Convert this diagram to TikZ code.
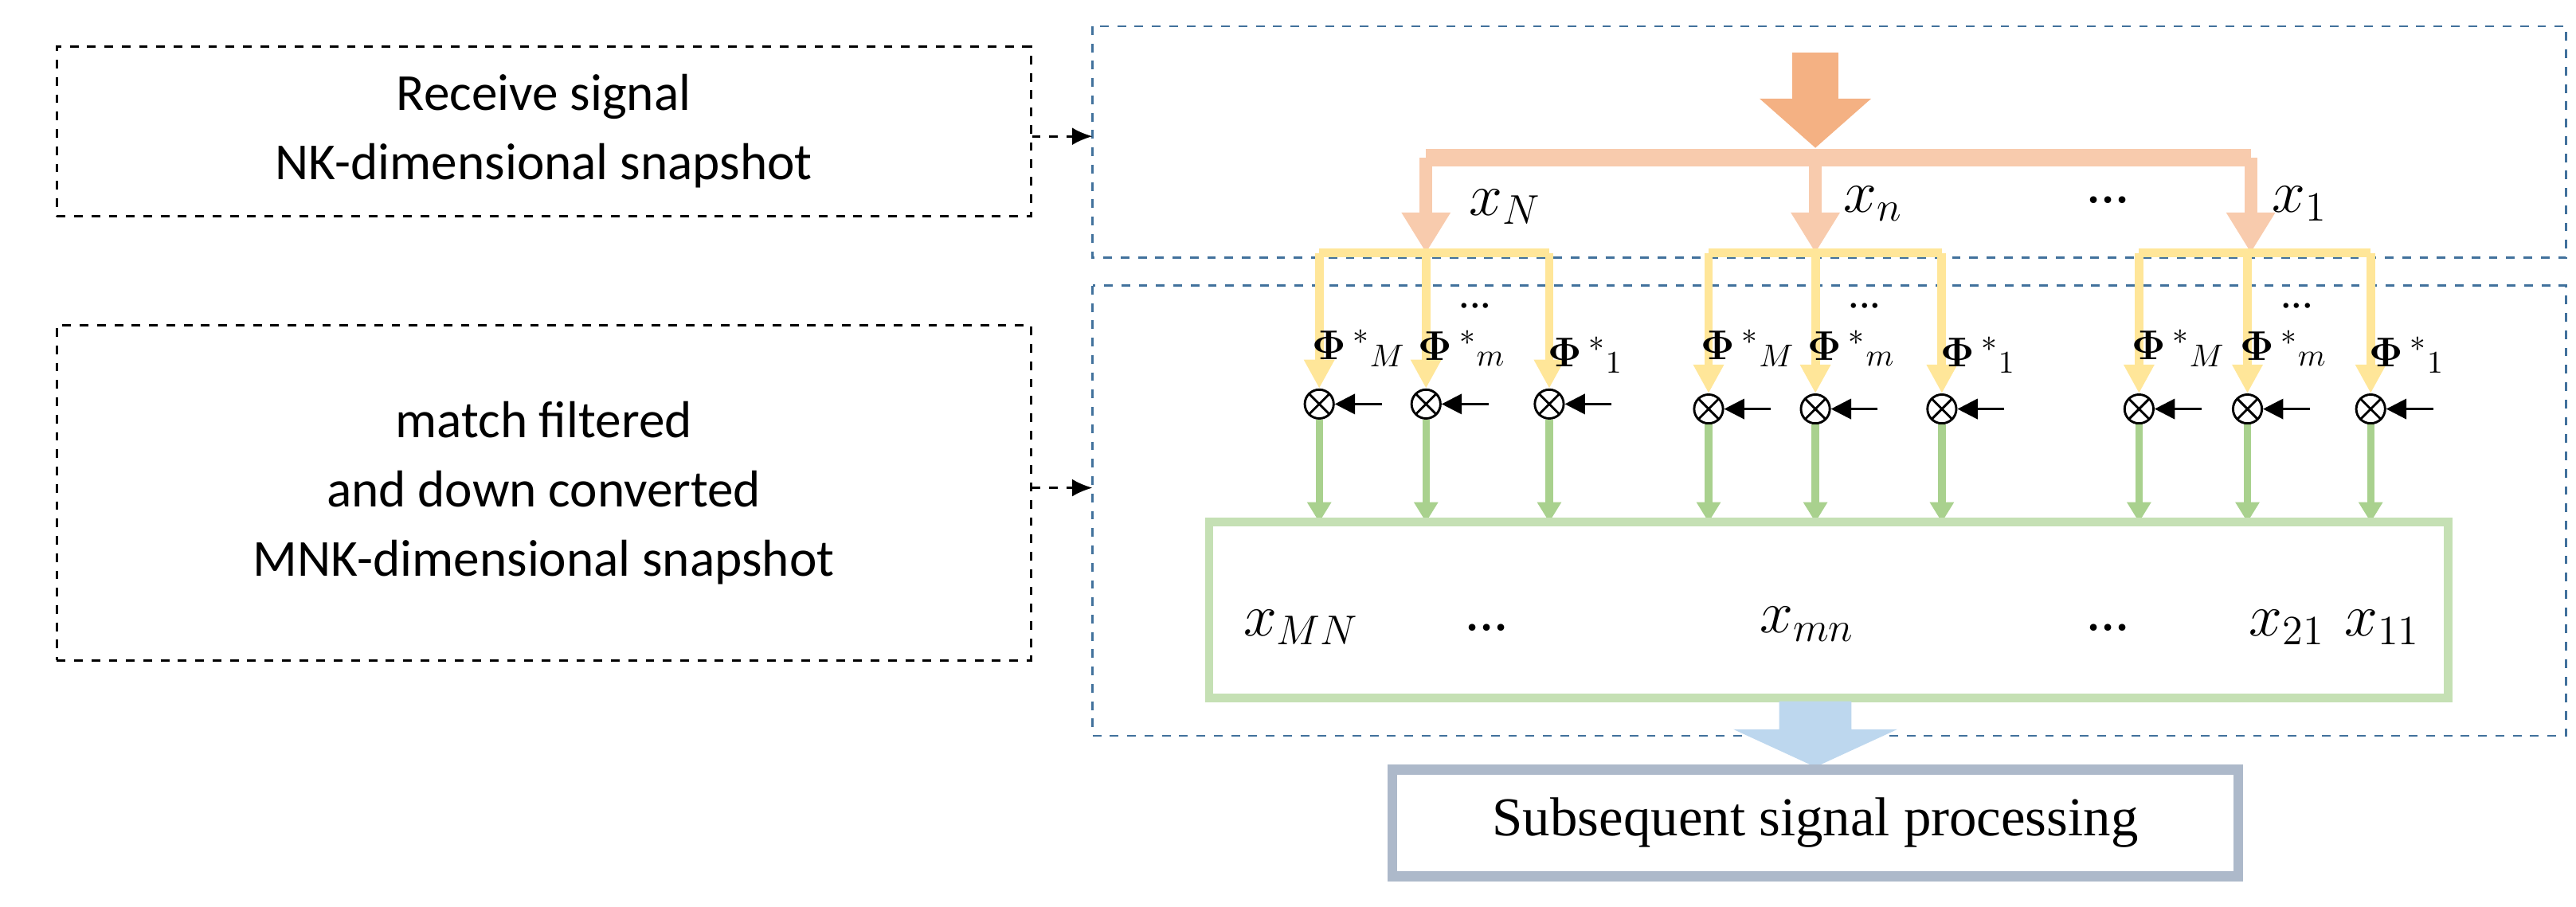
\documentclass[tikz,border=0pt]{standalone}
\usepackage{amsmath}
\usepackage{bm}
\usepackage{fontspec}
\setmainfont{Liberation Serif}
\newfontfamily\calibri{Carlito}
\usetikzlibrary{arrows.meta}
\definecolor{dashblue}{HTML}{41719C}
\definecolor{orangeA}{HTML}{F4B183}
\definecolor{orangeB}{HTML}{F8CBAD}
\definecolor{yellowA}{HTML}{FFE699}
\definecolor{greenA}{HTML}{A9D18E}
\definecolor{greenB}{HTML}{C5E0B4}
\definecolor{blueA}{HTML}{BDD7EE}
\definecolor{greyA}{HTML}{ADB9CA}
\tikzset{
  leftbox/.style={draw, dashed, thick, minimum width=11.86cm, align=center, font=\calibri\fontsize{18}{24}\selectfont},
  stage/.style={draw=dashblue, dashed, thick},
  orangeline/.style={orangeB, line width=4.5pt, -{Triangle[width=16pt,length=14pt]}},
  yellowline/.style={yellowA, line width=3pt, -{Triangle[width=10pt,length=10pt]}},
  greenline/.style={greenA, line width=2.6pt, -{Triangle[width=8pt,length=7pt]}},
  mult/.style={circle, draw, thick, inner sep=0pt, minimum size=10pt, path picture={
     \draw (path picture bounding box.north west) -- (path picture bounding box.south east)
           (path picture bounding box.north east) -- (path picture bounding box.south west);}},
  phi/.style={font=\fontsize{15}{15}\selectfont},
  xlab/.style={font=\fontsize{20}{20}\selectfont}
}
\begin{document}
\begin{tikzpicture}[x=0.02cm, y=-0.02cm]
	\useasboundingbox (0,0) rectangle (1568,552);
	% left descriptions
	\node[leftbox, minimum height=2.06cm] (recv) at (331,80) {Receive signal\\NK-dimensional snapshot};
	\node[leftbox, minimum height=4.08cm] (match) at (331,300) {match filtered\\and down converted\\MNK-dimensional snapshot};
	% stages
	\draw[stage] (665,16) rectangle (1562,157);
	\draw[stage] (665,174) rectangle (1562,448);
	\coordinate (s1) at (665,83);
	\coordinate (s2) at (665,297);
	\draw[dashed, thick, -{Latex[length=7pt,width=6pt]}] (recv.east |- s1) -- (s1);
	\draw[dashed, thick, -{Latex[length=7pt,width=6pt]}] (match.east |- s2) -- (s2);
	% incoming signal
	\fill[orangeA] (1091,32) -- (1119,32) -- (1119,60) -- (1139,60) -- (1105,90) -- (1071,60) -- (1091,60) -- cycle;
	\draw[orangeB, line width=6pt] (868,96) -- (1370,96);
	\foreach \xc/\g in {868/1, 1105/2, 1370/3}{
		\coordinate (br\g) at (\xc,96);
		\coordinate (sp\g) at (\xc,154);
		\draw[orangeline] (br\g) -- (sp\g);
	}
	\node[xlab] (xN) at (916,126) {$x_N$};
	\node[xlab] (xn) at (1140,124) {$x_n$};
	\node[xlab] (dt) at (1283,122) {...};
	\node[xlab] (x1) at (1400,124) {$x_1$};
	% match filters per element
	\foreach \g/\xa/\xb/\xc/\yy in {1/803/868/943/246, 2/1040/1105/1182/249, 3/1302/1368/1443/249}{
		\draw[yellowA, line width=3pt] (\xa,154) -- (\xc,154);
		\foreach \k/\xx in {1/\xa, 2/\xb, 3/\xc}{
			\node[mult] (m\g\k) at (\xx,\yy) {};
			\coordinate (in\g\k) at (\xx+38,\yy);
			\draw[yellowline] (\xx,154) -- (m\g\k.north);
			\draw[thick, -{Triangle[width=7pt,length=7pt]}] (in\g\k) -- (m\g\k.east);
			\draw[greenline] (m\g\k.south) -- (\xx,318);
		}
		\node[phi] (pM\g) at (\xa+24,212) {$\bm{\Phi}\,{}^{*}{}_{M}$};
		\node[phi] (pm\g) at (\xb+22,212) {$\bm{\Phi}\,{}^{*}{}_{m}$};
		\node[phi] (p1\g) at (\xc+22,216) {$\bm{\Phi}\,{}^{*}{}_{1}$};
		\node[phi] (pd\g) at (\xb+30,186) {...};
	}
	% snapshot
	\draw[greenB, line width=3pt] (736,318) rectangle (1490,425);
	\node[xlab] (xMN) at (792,382) {$x_{MN}$};
	\node[xlab] (d1) at (905,382) {...};
	\node[xlab] (xmn) at (1100,380) {$x_{mn}$};
	\node[xlab] (d2) at (1283,382) {...};
	\node[xlab] (x21) at (1392,382) {$x_{21}$};
	\node[xlab] (x11) at (1450,382) {$x_{11}$};
	% output
	\fill[blueA] (1083,427) -- (1127,427) -- (1127,444) -- (1155,444) -- (1105,467) -- (1055,444) -- (1083,444) -- cycle;
	\node[draw=greyA, line width=3.5pt, minimum width=10.3cm, minimum height=1.3cm, font=\fontsize{19}{19}\selectfont] (post) at (1105,501) {Subsequent signal processing};
\end{tikzpicture}
\end{document}
